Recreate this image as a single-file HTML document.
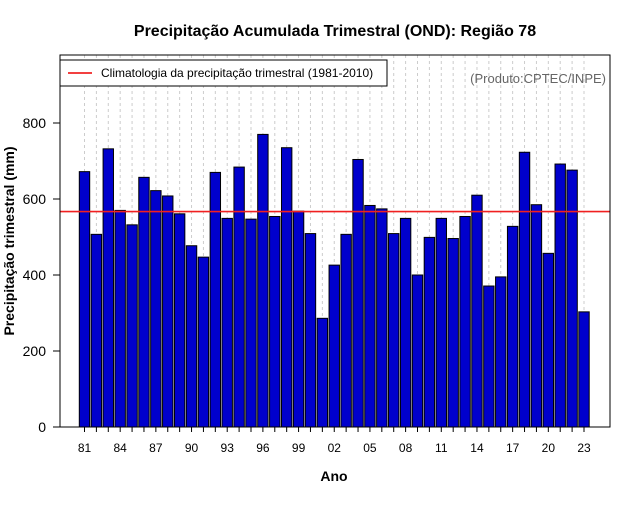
<!DOCTYPE html>
<html><head><meta charset="utf-8"><style>
body{margin:0;background:#fff;font-family:"Liberation Sans",sans-serif}
</style></head><body>
<svg id="chart" width="640" height="500" xmlns="http://www.w3.org/2000/svg">
<rect width="640" height="500" fill="#fff"/>
<text x="335" y="36" text-anchor="middle" font-size="16" font-weight="bold">Precipitação Acumulada Trimestral (OND): Região 78</text>
<g id="grid"></g>
<g id="bars"></g>
<g id="axes"></g>
<rect x="60" y="55" width="550" height="372" fill="none" stroke="#000"/>
<g>
<rect x="60" y="60" width="327" height="26" fill="#fff" stroke="#000"/>
<line x1="68" y1="73" x2="92" y2="73" stroke="#e00" stroke-width="1.5"/>
<text x="101" y="77" font-size="12">Climatologia da precipitação trimestral (1981-2010)</text>
</g>
<text x="606" y="83" text-anchor="end" font-size="13" fill="#666">(Produto:CPTEC/INPE)</text>
<text x="334" y="481" text-anchor="middle" font-size="14" font-weight="bold">Ano</text>
<text transform="translate(14,241) rotate(-90)" text-anchor="middle" font-size="14" font-weight="bold">Precipitação trimestral (mm)</text>
</svg>
<script>
const years=[1981,1982,1983,1984,1985,1986,1987,1988,1989,1990,1991,1992,1993,1994,1995,1996,1997,1998,1999,2000,2001,2002,2003,2004,2005,2006,2007,2008,2009,2010,2011,2012,2013,2014,2015,2016,2017,2018,2019,2020,2021,2022,2023];
const values=[672,507,732,570,532,657,622,608,561,477,447,670,549,684,547,770,554,735,568,509,286,426,507,704,583,574,509,549,400,499,549,496,554,610,371,395,528,723,585,457,692,676,303];
const climatology=567;
const yTicks=[0,200,400,600,800];
const xTickYears=[1981,1984,1987,1990,1993,1996,1999,2002,2005,2008,2011,2014,2017,2020,2023];
const NS="http://www.w3.org/2000/svg";
const xPos=i=>84.5+i*(584-84.5)/(years.length-1);
const yPos=v=>427-v*0.38;
const mk=(t,a,p)=>{const e=document.createElementNS(NS,t);for(const k in a)e.setAttribute(k,a[k]);p.appendChild(e);return e;};
const grid=document.getElementById('grid'),bars=document.getElementById('bars'),axes=document.getElementById('axes');
years.forEach((y,i)=>{
 const g=mk('line',{x1:xPos(i),x2:xPos(i),y1:55,y2:427,stroke:'#ccc','stroke-dasharray':'3,3'},grid);
 
 
 const b=mk('rect',{x:xPos(i)-5.2,y:yPos(values[i]),width:10.4,height:427-yPos(values[i]),fill:'#0000cc',stroke:'#000','stroke-width':1},bars);
 
 
});
const cl=mk('line',{x1:60,x2:610,y1:yPos(climatology),y2:yPos(climatology),stroke:'#f02020','stroke-width':1.6},bars);


yTicks.forEach(v=>{
 const l=mk('line',{x1:53,x2:60,y1:yPos(v),y2:yPos(v),stroke:'#000'},axes);
 
 
 const t=mk('text',{x:46,y:yPos(v)+5,'text-anchor':'end','font-size':14},axes);
 t.textContent=v;
 
 
});
years.forEach((y,i)=>{
 const l=mk('line',{x1:xPos(i),x2:xPos(i),y1:427,y2:432,stroke:'#000'},axes);
 
 
});
xTickYears.forEach(y=>{
 const i=years.indexOf(y);
 const t=mk('text',{x:xPos(i),y:452,'text-anchor':'middle','font-size':12},axes);
 t.textContent=String(y%100).padStart(2,'0');
 
 
});
</script>
</body></html>
